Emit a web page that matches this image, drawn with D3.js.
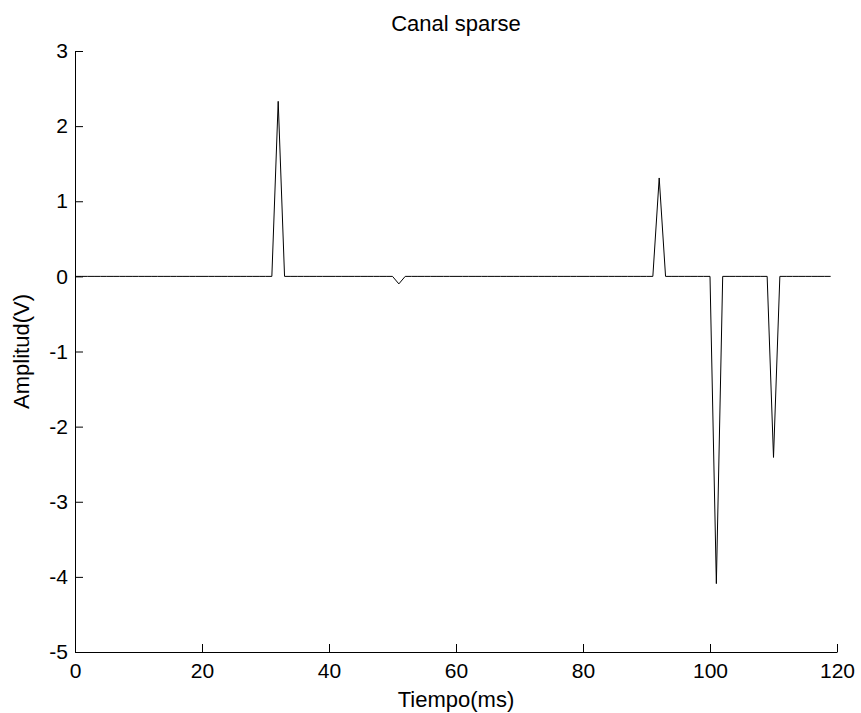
<!DOCTYPE html>
<html><head><meta charset="utf-8">
<script src="https://cdn.jsdelivr.net/npm/d3@7"></script>
<style>body{margin:0;background:#fff}svg{display:block}text{font-family:"Liberation Sans",Arial,sans-serif}</style>
</head><body>
<script>
const title = "Canal sparse";
const xLabel = "Tiempo(ms)";
const yLabel = "Amplitud(V)";
const xTicks = [0, 20, 40, 60, 80, 100, 120];
const yTicks = [-5, -4, -3, -2, -1, 0, 1, 2, 3];
// amplitude samples, one per ms, t = 0..119
const amplitude = [
  0,0,0,0,0,0,0,0,0,0,
  0,0,0,0,0,0,0,0,0,0,
  0,0,0,0,0,0,0,0,0,0,
  0,0,2.33,0,0,0,0,0,0,0,
  0,0,0,0,0,0,0,0,0,0,
  0,-0.1,0,0,0,0,0,0,0,0,
  0,0,0,0,0,0,0,0,0,0,
  0,0,0,0,0,0,0,0,0,0,
  0,0,0,0,0,0,0,0,0,0,
  0,0,1.31,0,0,0,0,0,0,0,
  0,-4.09,0,0,0,0,0,0,0,0,
  -2.41,0,0,0,0,0,0,0,0,0
];
const time = amplitude.map((_, i) => i);

const W = 861, H = 713;
const m = {left: 75, right: 24, top: 51, bottom: 61};
const svg = d3.select("body").append("svg").attr("width", W).attr("height", H);
const x = d3.scaleLinear().domain([0, 120]).range([m.left, W - m.right]);
const y = d3.scaleLinear().domain([-5, 3]).range([H - m.bottom, m.top]);

const fsTick = 21, fsLabel = 22;
const fmt = d => String(d);
const xAxis = d3.axisBottom(x).tickValues(xTicks).tickFormat(fmt).tickSizeInner(-8).tickSizeOuter(0).tickPadding(11);
const yAxis = d3.axisLeft(y).tickValues(yTicks).tickFormat(fmt).tickSizeInner(-8).tickSizeOuter(0).tickPadding(7);
const gx = svg.append("g").attr("transform", `translate(0,${y(-5)})`).call(xAxis);
const gy = svg.append("g").attr("transform", `translate(${x(0)},0)`).call(yAxis);
[gx, gy].forEach(g => {
  g.selectAll("path, line").attr("stroke", "#000").attr("stroke-width", 1);
  g.selectAll("text").attr("font-size", fsTick).attr("fill", "#000").style("font-family", '"Liberation Sans",Arial,sans-serif');
});

svg.append("path")
  .datum(time.map((t, i) => [t, amplitude[i]]))
  .attr("fill", "none").attr("stroke", "#000").attr("stroke-width", 1)
  .attr("d", d3.line().x(d => x(d[0])).y(d => y(d[1])));

svg.append("text").attr("x", (x(0) + x(120)) / 2).attr("y", 31).attr("text-anchor", "middle")
  .attr("font-size", fsLabel).text(title);
svg.append("text").attr("x", (x(0) + x(120)) / 2).attr("y", 707).attr("text-anchor", "middle")
  .attr("font-size", fsLabel).text(xLabel);
svg.append("text").attr("transform", `translate(29,${(y(3) + y(-5)) / 2}) rotate(-90)`).attr("text-anchor", "middle")
  .attr("font-size", fsLabel).text(yLabel);
</script>
</body></html>
